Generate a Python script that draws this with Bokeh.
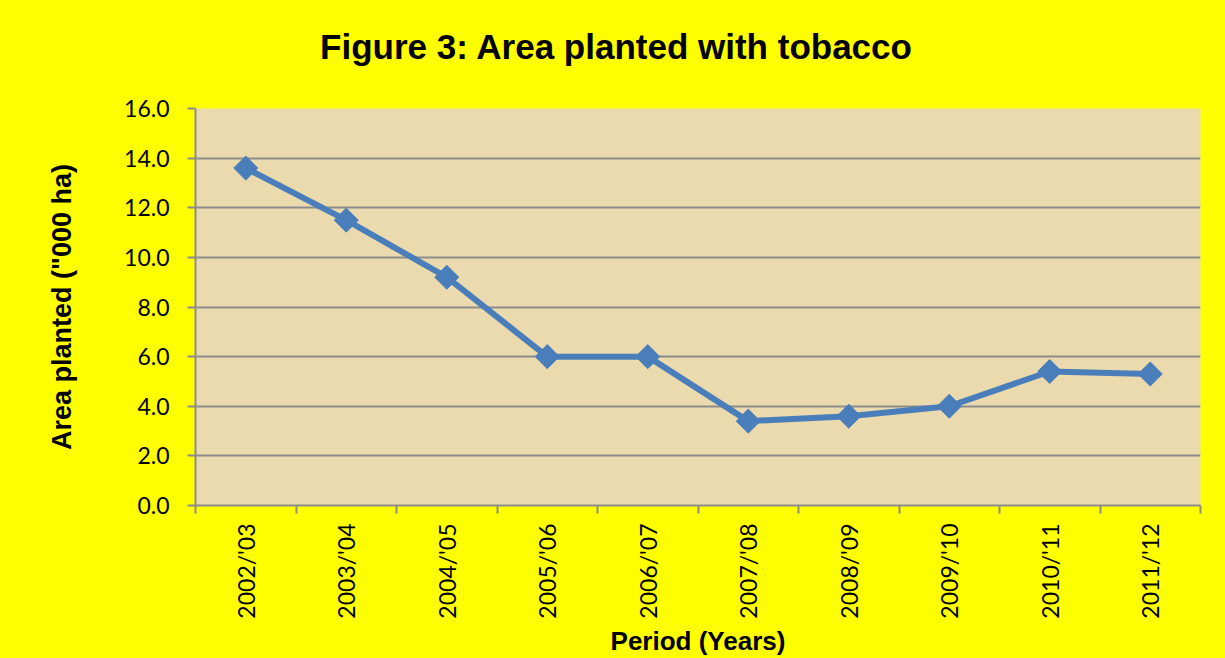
import math
from bokeh.plotting import figure
from bokeh.layouts import column
from bokeh.models import FixedTicker, Range1d, NumeralTickFormatter, ColumnDataSource, Div
from bokeh.embed import file_html
from bokeh.resources import INLINE

periods = ["2002/'03", "2003/'04", "2004/'05", "2005/'06", "2006/'07",
           "2007/'08", "2008/'09", "2009/'10", "2010/'11", "2011/'12"]
area_planted = [13.6, 11.5, 9.2, 6.0, 6.0, 3.4, 3.6, 4.0, 5.4, 5.3]
y_ticks = [0, 2, 4, 6, 8, 10, 12, 14, 16]
title_text = "Figure 3: Area planted with tobacco"

n = len(periods)
src = ColumnDataSource(dict(x=list(range(n)), y=area_planted, period=periods))

YELLOW = "#FFFF00"
TITLE_H = 94
header = Div(text=title_text, width=1225, height=TITLE_H, margin=0,
             styles={"background-color": YELLOW, "font-family": "Liberation Sans",
                     "font-size": "35px", "font-weight": "bold", "color": "black",
                     "text-align": "center", "line-height": f"{TITLE_H}px",
                     "padding-left": "7px", "box-sizing": "border-box"})

p = figure(width=1225, height=658 - TITLE_H, output_backend="svg", toolbar_location=None,
           x_range=Range1d(-0.5, n - 0.5), y_range=Range1d(y_ticks[0], y_ticks[-1]),
           min_border_left=195, min_border_right=25, min_border_top=108 - TITLE_H,
           min_border_bottom=150, margin=0)

p.background_fill_color = "#ECDAAF"
p.border_fill_color = YELLOW
p.outline_line_color = None

BLUE = "#4A7EBB"
p.line("x", "y", source=src, line_color=BLUE, line_width=6)
p.scatter("x", "y", source=src, marker="square", angle=math.pi / 4, size=17,
          fill_color=BLUE, line_color=BLUE)

GRAY = "#8C8C8C"
TICK_FONT = "Lato"

xa = p.xaxis[0]
xa.ticker = FixedTicker(ticks=list(range(n)), minor_ticks=[i - 0.5 for i in range(n + 1)])
xa.major_label_overrides = {i: lab for i, lab in enumerate(periods)}
xa.major_label_orientation = math.pi / 2
xa.major_tick_line_color = None
xa.minor_tick_line_color = GRAY
xa.minor_tick_line_width = 2
xa.minor_tick_out = 8
xa.minor_tick_in = 0
xa.axis_line_color = GRAY
xa.axis_line_width = 2
xa.major_label_text_font = TICK_FONT
xa.major_label_text_font_size = "23px"
xa.major_label_text_color = "black"
xa.major_label_standoff = 10
xa.axis_label = "Period (Years)"
xa.axis_label_text_font = "Liberation Sans"
xa.axis_label_text_font_size = "26px"
xa.axis_label_text_font_style = "bold"
xa.axis_label_text_color = "black"
xa.axis_label_standoff = 4

ya = p.yaxis[0]
ya.ticker = FixedTicker(ticks=y_ticks)
ya.formatter = NumeralTickFormatter(format="0.0")
ya.major_tick_line_color = GRAY
ya.major_tick_line_width = 2
ya.major_tick_out = 8
ya.major_tick_in = 0
ya.minor_tick_line_color = None
ya.axis_line_color = GRAY
ya.axis_line_width = 2
ya.major_label_text_font = TICK_FONT
ya.major_label_text_font_size = "23px"
ya.major_label_text_color = "black"
ya.major_label_standoff = 18
ya.axis_label = "Area planted (\"000 ha)"
ya.axis_label_text_font = "Liberation Sans"
ya.axis_label_text_font_size = "27px"
ya.axis_label_text_font_style = "bold"
ya.axis_label_text_color = "black"
ya.axis_label_standoff = 44

p.xgrid.grid_line_color = None
p.ygrid.grid_line_color = GRAY
p.ygrid.grid_line_width = 2

layout = column(header, p, spacing=0, margin=0, styles={"background-color": YELLOW})
open("out.html", "w").write(file_html(layout, INLINE))
